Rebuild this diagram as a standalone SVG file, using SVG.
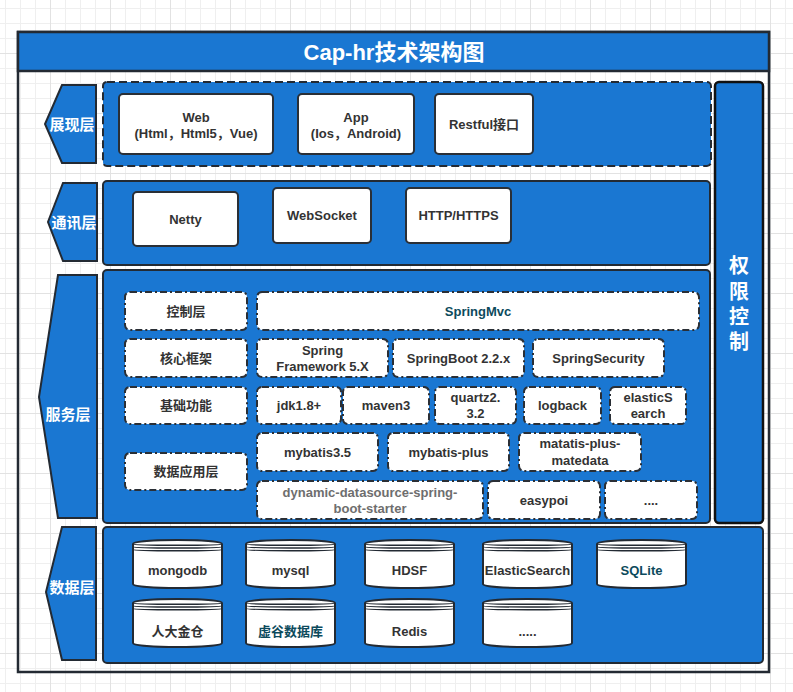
<svg xmlns="http://www.w3.org/2000/svg" width="793" height="692" viewBox="0 0 793 692">
<defs>
<pattern id="gMinor" x="5" y="8" width="15" height="15" patternUnits="userSpaceOnUse"><path d="M0 0.5H15M0.5 0V15" stroke="#efefef" stroke-width="1" fill="none"/></pattern>
<pattern id="gMajor" x="50" y="53" width="60" height="60" patternUnits="userSpaceOnUse"><path d="M0 0.5H60M0.5 0V60" stroke="#e2e2e2" stroke-width="1" fill="none"/></pattern>
</defs>
<style>
text{font-family:"Liberation Sans","Noto Sans CJK SC",sans-serif;font-weight:bold;text-anchor:middle;dominant-baseline:central}
.t{font-size:13px;fill:#333333}
.teal{fill:#0c4a5c}
.gray{fill:#6e6e6e}
.lbl{font-size:15px;fill:#ffffff}
.blue{fill:#1a77d2;stroke:#232a33;stroke-width:2}
.box{fill:#ffffff;stroke:#2a2f36;stroke-width:2}
.dd{fill:#ffffff;stroke:#2a2f36;stroke-width:2;stroke-dasharray:7 3 2 3}
.cyl{fill:#ffffff;stroke:#232a33;stroke-width:2}
.cl{fill:none;stroke:#232a33;stroke-width:1.5}
</style>
<rect width="793" height="692" fill="#ffffff"/>
<rect width="793" height="692" fill="url(#gMinor)"/>
<rect width="793" height="692" fill="url(#gMajor)"/>

<g id="frame">
<rect x="18" y="32" width="751" height="640" fill="none" stroke="#232a33" stroke-width="2.5"/>
<rect x="18" y="32" width="751" height="39" fill="#1a77d2" stroke="#232a33" stroke-width="2.5"/>
<text x="394" y="52" style="font-size:22px;fill:#ffffff">Cap-hr技术架构图</text>
</g>

<g id="layer-presentation">
<polygon class="blue" points="62,85 96,85 96,163 62,163 45,124"/>
<text class="lbl" x="72" y="124">展现层</text>
<rect class="blue" x="103" y="82" width="608" height="84" rx="4" style="stroke-dasharray:8 4"/>
</g>
<g id="node-web"><rect class="box" x="119" y="94" width="154" height="60" rx="4"/><text class="t" x="196" y="117">Web</text><text class="t" x="196" y="133">(Html，Html5，Vue)</text></g>
<g id="node-app"><rect class="box" x="298" y="94" width="116" height="60" rx="4"/><text class="t" x="356" y="117">App</text><text class="t" x="356" y="133">(Ios，Android)</text></g>
<g id="node-restful"><rect class="box" x="435" y="94" width="98" height="60" rx="4"/><text class="t" x="484" y="124">Restful接口</text></g>

<g id="layer-communication">
<polygon class="blue" points="63,183 97,183 97,261 63,261 48,222"/>
<text class="lbl" x="74" y="222">通讯层</text>
<rect class="blue" x="103" y="181" width="607" height="84" rx="4"/>
</g>
<g id="node-netty"><rect class="box" x="133" y="192" width="105" height="54" rx="4"/><text class="t" x="185.5" y="219">Netty</text></g>
<g id="node-websocket"><rect class="box" x="273" y="188" width="98" height="55" rx="4"/><text class="t" x="322" y="215.5">WebSocket</text></g>
<g id="node-http"><rect class="box" x="406" y="188" width="105" height="55" rx="4"/><text class="t" x="458.5" y="215.5">HTTP/HTTPS</text></g>

<g id="layer-service">
<polygon class="blue" points="58,275 97,275 97,518 58,518 39,397"/>
<text class="lbl" x="68" y="414">服务层</text>
<rect class="blue" x="103" y="270" width="607" height="253" rx="4"/>
</g>
<g id="node-kongzhi"><rect class="dd" x="125" y="292" width="122" height="38" rx="5"/><text class="t" x="186" y="311">控制层</text></g>
<g id="node-springmvc"><rect class="dd" x="257" y="292" width="442" height="38" rx="5"/><text class="t teal" x="478" y="311">SpringMvc</text></g>
<g id="node-hexin"><rect class="dd" x="125" y="339" width="122" height="38" rx="5"/><text class="t" x="186" y="358">核心框架</text></g>
<g id="node-springfw"><rect class="dd" x="257" y="339" width="131" height="38" rx="5"/><text class="t" x="322.5" y="350">Spring</text><text class="t" x="322.5" y="366">Framework 5.X</text></g>
<g id="node-springboot"><rect class="dd" x="393" y="339" width="131" height="38" rx="5"/><text class="t" x="458.5" y="358">SpringBoot 2.2.x</text></g>
<g id="node-springsecurity"><rect class="dd" x="533" y="339" width="131" height="38" rx="5"/><text class="t" x="598.5" y="358">SpringSecurity</text></g>
<g id="node-jichu"><rect class="dd" x="125" y="387" width="122" height="37" rx="5"/><text class="t" x="186" y="405.5">基础功能</text></g>
<g id="node-jdk"><rect class="dd" x="257" y="387" width="84" height="37" rx="5"/><text class="t" x="299" y="405.5">jdk1.8+</text></g>
<g id="node-maven"><rect class="dd" x="343" y="387" width="86" height="37" rx="5"/><text class="t" x="386" y="405.5">maven3</text></g>
<g id="node-quartz"><rect class="dd" x="435" y="387" width="81" height="37" rx="5"/><text class="t" x="475.5" y="397">quartz2.</text><text class="t" x="475.5" y="413">3.2</text></g>
<g id="node-logback"><rect class="dd" x="524" y="387" width="77" height="37" rx="5"/><text class="t" x="562.5" y="405.5">logback</text></g>
<g id="node-elastic"><rect class="dd" x="610" y="387" width="76" height="37" rx="5"/><text class="t" x="648" y="397">elasticS</text><text class="t" x="648" y="413">earch</text></g>
<g id="node-mybatis"><rect class="dd" x="257" y="433" width="121" height="38" rx="5"/><text class="t" x="317.5" y="452">mybatis3.5</text></g>
<g id="node-mybatisplus"><rect class="dd" x="388" y="433" width="121" height="38" rx="5"/><text class="t" x="448.5" y="452">mybatis-plus</text></g>
<g id="node-matedata"><rect class="dd" x="519" y="433" width="122" height="38" rx="5"/><text class="t" x="580" y="443.5">matatis-plus-</text><text class="t" x="580" y="460">matedata</text></g>
<g id="node-shuju"><rect class="dd" x="125" y="453" width="122" height="37" rx="5"/><text class="t" x="186" y="471.5">数据应用层</text></g>
<g id="node-dynamic"><rect class="dd" x="257" y="481" width="226" height="38" rx="5"/><text class="t gray" x="370" y="492">dynamic-datasource-spring-</text><text class="t gray" x="370" y="508">boot-starter</text></g>
<g id="node-easypoi"><rect class="dd" x="488" y="481" width="112" height="38" rx="5"/><text class="t" x="544" y="500">easypoi</text></g>
<g id="node-more"><rect class="dd" x="605" y="481" width="92" height="38" rx="5"/><text class="t" x="651" y="500">....</text></g>

<g id="node-auth">
<rect x="715" y="82" width="48" height="441" rx="4" fill="#1a77d2" stroke="#111111" stroke-width="2.5"/>
<text x="739" y="266" style="font-size:20px;fill:#ffffff">权</text>
<text x="739" y="291.5" style="font-size:20px;fill:#ffffff">限</text>
<text x="739" y="317" style="font-size:20px;fill:#ffffff">控</text>
<text x="739" y="342" style="font-size:20px;fill:#ffffff">制</text>
</g>

<g id="layer-data">
<polygon class="blue" points="62,527 96,527 96,660 62,660 46,592"/>
<text class="lbl" x="72" y="587">数据层</text>
<rect class="blue" x="103" y="527" width="660" height="136" rx="4"/>
</g>
<defs>
<g id="cyl">
<path class="cyl" d="M0,4 C0,-1.33 89,-1.33 89,4 L89,44 C89,49.33 0,49.33 0,44 Z"/>
<path class="cl" d="M0,4 C0,5.7 89,5.7 89,4 M0,6.7 C0,8.4 89,8.4 89,6.7 M0,9.4 C0,11.1 89,11.1 89,9.4"/>
</g>
</defs>
<g id="db-mongodb"><use href="#cyl" x="133" y="540"/><text class="t" x="177.5" y="570">mongodb</text></g>
<g id="db-mysql"><use href="#cyl" x="246" y="540"/><text class="t" x="290.5" y="570">mysql</text></g>
<g id="db-hdsf"><use href="#cyl" x="365" y="540"/><text class="t" x="409.5" y="570">HDSF</text></g>
<g id="db-elastic"><use href="#cyl" x="483" y="540"/><text class="t" x="527.5" y="570">ElasticSearch</text></g>
<g id="db-sqlite"><use href="#cyl" x="597" y="540"/><text class="t teal" x="641.5" y="570">SQLite</text></g>
<g id="db-kingbase"><use href="#cyl" x="133" y="599"/><text class="t" x="177.5" y="631.5">人大金仓</text></g>
<g id="db-xugu"><use href="#cyl" x="246" y="599"/><text class="t teal" x="290.5" y="631.5">虚谷数据库</text></g>
<g id="db-redis"><use href="#cyl" x="365" y="599"/><text class="t" x="409.5" y="631.5">Redis</text></g>
<g id="db-more"><use href="#cyl" x="483" y="599"/><text class="t" x="527.5" y="631.5">.....</text></g>
<g id="connectors"/>
</svg>
